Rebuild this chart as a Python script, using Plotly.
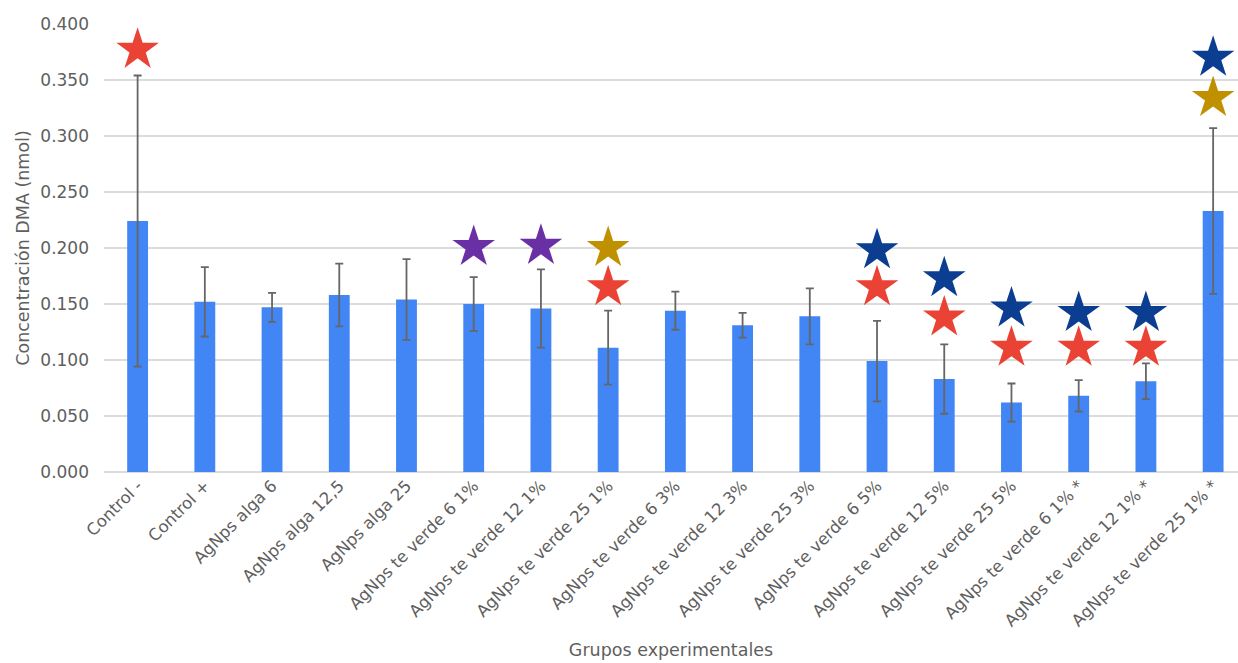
import plotly.graph_objects as go

categories = ["Control -", "Control +", "AgNps alga 6", "AgNps alga 12,5", "AgNps alga 25",
              "AgNps te verde 6 1%", "AgNps te verde 12 1%", "AgNps te verde 25 1%",
              "AgNps te verde 6 3%", "AgNps te verde 12 3%", "AgNps te verde 25 3%",
              "AgNps te verde 6 5%", "AgNps te verde 12 5%", "AgNps te verde 25 5%",
              "AgNps te verde 6 1% *", "AgNps te verde 12 1% *", "AgNps te verde 25 1% *"]
means = [0.224, 0.152, 0.147, 0.158, 0.154, 0.150, 0.146, 0.111, 0.144, 0.131, 0.139,
         0.099, 0.083, 0.062, 0.068, 0.081, 0.233]
errors = [0.130, 0.031, 0.013, 0.028, 0.036, 0.024, 0.035, 0.033, 0.017, 0.011, 0.025,
          0.036, 0.031, 0.017, 0.014, 0.016, 0.074]

# significance stars: (category index, y position, colour group)
red_idx = [0, 7, 11, 12, 13, 14, 15]
red_y = [0.377, 0.165, 0.165, 0.138, 0.111, 0.111, 0.111]
gold_idx = [7, 16]
gold_y = [0.200, 0.334]
purple_idx = [5, 6]
purple_y = [0.201, 0.202]
blue_idx = [11, 12, 13, 14, 15, 16]
blue_y = [0.198, 0.173, 0.146, 0.142, 0.142, 0.370]

yticks = [0.0, 0.05, 0.1, 0.15, 0.2, 0.25, 0.3, 0.35, 0.4]

FONT = "DejaVu Sans, Liberation Sans, Arial, sans-serif"
TXT = "#5f5f5f"
fig = go.Figure()
fig.add_trace(go.Bar(
    x=list(range(len(categories))), y=means, width=0.31,
    marker=dict(color="#4285F4", line=dict(width=0)),
    error_y=dict(type="data", array=errors, visible=True, color="#666666", thickness=1.8, width=4),
    showlegend=False,
))

def stars(idx, ys, color):
    fig.add_trace(go.Scatter(
        x=idx, y=ys, mode="markers",
        marker=dict(symbol="star", size=32, color=color, line=dict(width=0)),
        showlegend=False, hoverinfo="skip",
    ))

stars(red_idx, red_y, "#EA4335")
stars(gold_idx, gold_y, "#BF9000")
stars(purple_idx, purple_y, "#6B2FA5")
stars(blue_idx, blue_y, "#0B3D91")

fig.update_layout(
    width=1238, height=663,
    margin=dict(l=104, r=0, t=24, b=191),
    plot_bgcolor="white", paper_bgcolor="white",
    font=dict(family=FONT, color=TXT, size=16),
)
fig.update_xaxes(
    tickmode="array", tickvals=list(range(len(categories))), ticktext=categories,
    tickangle=-45, range=[-0.5, 16.37], showgrid=False, zeroline=False,
    showline=False, ticks="", tickfont=dict(size=16.5, color=TXT),
    title=dict(text="Grupos experimentales", font=dict(size=17.5, color=TXT), standoff=14),
)
fig.update_yaxes(
    range=[0, 0.4], tickvals=yticks, tickformat=".3f", ticklabelstandoff=14,
    showgrid=True, gridcolor="#dcdcdc", gridwidth=1.5, zeroline=True, zerolinecolor="#dcdcdc",
    zerolinewidth=1.5, ticks="", tickfont=dict(size=17, color=TXT),
    title=dict(text="Concentración DMA (nmol)", font=dict(size=17.5, color=TXT), standoff=6),
)

fig.write_html("out.html")
